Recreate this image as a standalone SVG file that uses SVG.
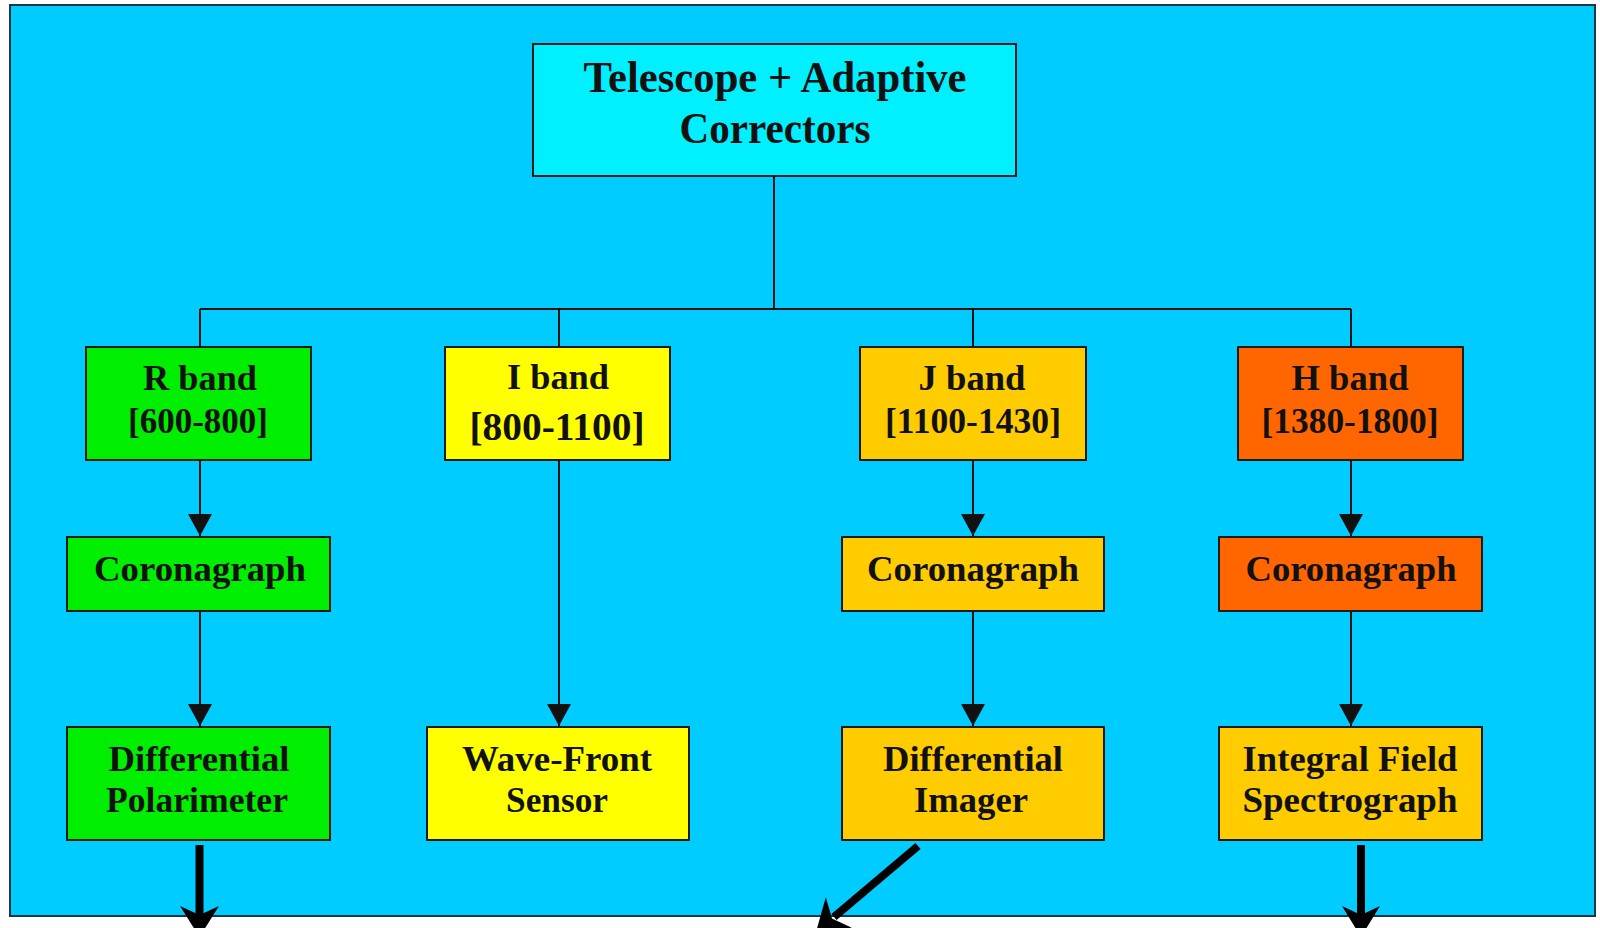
<svg xmlns="http://www.w3.org/2000/svg" width="1600" height="928" viewBox="0 0 1600 928">
  <style>
    .box { stroke: #1a1a1a; stroke-width: 2; }
    .t { font-family: "Liberation Serif", "Times New Roman", serif; font-weight: bold; fill: #111; text-anchor: middle; }
    .wire { stroke: #111; stroke-width: 2; fill: none; }
    .out { stroke: #000; stroke-width: 8; fill: none; }
  </style>
  <defs>
    <marker id="tri" markerWidth="22" markerHeight="24" refX="22" refY="12" orient="auto" markerUnits="userSpaceOnUse" viewBox="0 0 22 24">
      <path d="M0 0 L22 12 L0 24 Z" fill="#111"/>
    </marker>
  </defs>

  <!-- background panel -->
  <rect x="0" y="0" width="1600" height="928" fill="#ffffff"/>
  <rect x="10" y="5" width="1585" height="911" fill="#00CCFF" stroke="#163848" stroke-width="2"/>

  <!-- connectors -->
  <g id="connectors">
    <path class="wire" d="M774 176 V309 M200 309 H1351 M200 309 V347 M559 309 V347 M973 309 V347 M1351 309 V347"/>
    <line class="wire" x1="200" y1="460" x2="200" y2="536" marker-end="url(#tri)"/>
    <line class="wire" x1="200" y1="611" x2="200" y2="726" marker-end="url(#tri)"/>
    <line class="wire" x1="559" y1="460" x2="559" y2="726" marker-end="url(#tri)"/>
    <line class="wire" x1="973" y1="460" x2="973" y2="536" marker-end="url(#tri)"/>
    <line class="wire" x1="973" y1="611" x2="973" y2="726" marker-end="url(#tri)"/>
    <line class="wire" x1="1351" y1="460" x2="1351" y2="536" marker-end="url(#tri)"/>
    <line class="wire" x1="1351" y1="611" x2="1351" y2="726" marker-end="url(#tri)"/>

    <!-- outgoing heavy arrows -->
    <line class="out" x1="199.5" y1="845" x2="199.5" y2="916"/>
    <path d="M180 906 L199.5 915 L219 906 L199.5 937 Z" fill="#000"/>
    <line class="out" x1="1361" y1="845" x2="1361" y2="916"/>
    <path d="M1342 906 L1361 915 L1380 906 L1361 937 Z" fill="#000"/>
    <line class="out" x1="918" y1="846" x2="834" y2="917"/>
    <path d="M825.8 897.3 L832 918.4 L851.8 927.7 L816 932 Z" fill="#000"/>
  </g>

  <g id="top">
    <rect class="box" x="533" y="44" width="483" height="132" fill="#00F0FF"/>
    <text class="t" x="775" y="92" font-size="44" textLength="383" lengthAdjust="spacingAndGlyphs">Telescope + Adaptive</text>
    <text class="t" x="775" y="143" font-size="44" textLength="191" lengthAdjust="spacingAndGlyphs">Correctors</text>
  </g>

  <g id="r-band">
    <rect class="box" x="86" y="347" width="225" height="113" fill="#00EE00"/>
    <text class="t" x="200" y="390" font-size="35" textLength="114" lengthAdjust="spacingAndGlyphs">R band</text>
    <text class="t" x="198" y="433" font-size="35" textLength="140" lengthAdjust="spacingAndGlyphs">[600-800]</text>
  </g>
  <g id="i-band">
    <rect class="box" x="445" y="347" width="225" height="113" fill="#FFFF00"/>
    <text class="t" x="558" y="389" font-size="35" textLength="102" lengthAdjust="spacingAndGlyphs">I band</text>
    <text class="t" x="557" y="440" font-size="40" textLength="175" lengthAdjust="spacingAndGlyphs">[800-1100]</text>
  </g>
  <g id="j-band">
    <rect class="box" x="860" y="347" width="226" height="113" fill="#FFCC00"/>
    <text class="t" x="972" y="390" font-size="35" textLength="107" lengthAdjust="spacingAndGlyphs">J band</text>
    <text class="t" x="973" y="433" font-size="35" textLength="176" lengthAdjust="spacingAndGlyphs">[1100-1430]</text>
  </g>
  <g id="h-band">
    <rect class="box" x="1238" y="347" width="225" height="113" fill="#FF6600"/>
    <text class="t" x="1350" y="390" font-size="35" textLength="117" lengthAdjust="spacingAndGlyphs">H band</text>
    <text class="t" x="1350" y="433" font-size="35" textLength="177" lengthAdjust="spacingAndGlyphs">[1380-1800]</text>
  </g>

  <g id="r-coronagraph">
    <rect class="box" x="67" y="537" width="263" height="74" fill="#00EE00"/>
    <text class="t" x="200" y="581" font-size="35" textLength="212" lengthAdjust="spacingAndGlyphs">Coronagraph</text>
  </g>
  <g id="j-coronagraph">
    <rect class="box" x="842" y="537" width="262" height="74" fill="#FFCC00"/>
    <text class="t" x="973" y="581" font-size="35" textLength="212" lengthAdjust="spacingAndGlyphs">Coronagraph</text>
  </g>
  <g id="h-coronagraph">
    <rect class="box" x="1219" y="537" width="263" height="74" fill="#FF6600"/>
    <text class="t" x="1351" y="581" font-size="35" textLength="211" lengthAdjust="spacingAndGlyphs">Coronagraph</text>
  </g>

  <g id="polarimeter">
    <rect class="box" x="67" y="727" width="263" height="113" fill="#00EE00"/>
    <text class="t" x="199" y="771" font-size="35" textLength="181" lengthAdjust="spacingAndGlyphs">Differential</text>
    <text class="t" x="197" y="812" font-size="35" textLength="182" lengthAdjust="spacingAndGlyphs">Polarimeter</text>
  </g>
  <g id="wavefront">
    <rect class="box" x="427" y="727" width="262" height="113" fill="#FFFF00"/>
    <text class="t" x="557" y="771" font-size="35" textLength="190" lengthAdjust="spacingAndGlyphs">Wave-Front</text>
    <text class="t" x="557" y="812" font-size="35" textLength="102" lengthAdjust="spacingAndGlyphs">Sensor</text>
  </g>
  <g id="imager">
    <rect class="box" x="842" y="727" width="262" height="113" fill="#FFCC00"/>
    <text class="t" x="973" y="771" font-size="35" textLength="180" lengthAdjust="spacingAndGlyphs">Differential</text>
    <text class="t" x="971" y="812" font-size="35" textLength="114" lengthAdjust="spacingAndGlyphs">Imager</text>
  </g>
  <g id="spectrograph">
    <rect class="box" x="1219" y="727" width="263" height="113" fill="#FFCC00"/>
    <text class="t" x="1350" y="771" font-size="35" textLength="215" lengthAdjust="spacingAndGlyphs">Integral Field</text>
    <text class="t" x="1350" y="812" font-size="35" textLength="215" lengthAdjust="spacingAndGlyphs">Spectrograph</text>
  </g>
</svg>
